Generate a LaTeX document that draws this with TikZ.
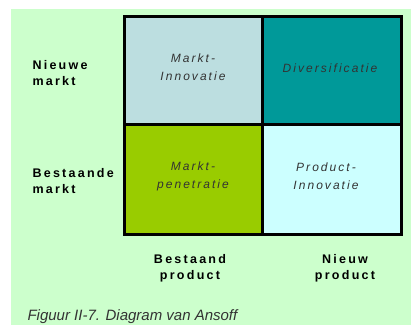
\documentclass[tikz,border=0pt]{standalone}
\usepackage{fontspec}
\setmainfont{Liberation Sans}
\definecolor{achtergrond}{HTML}{CCFFCC}
\definecolor{grijsblauw}{HTML}{BCDEE0}
\definecolor{teal}{HTML}{009999}
\definecolor{limoen}{HTML}{99CC00}
\definecolor{lichtcyaan}{HTML}{CCFFFF}
\definecolor{tekst}{HTML}{333333}
\tikzset{
  as/.style={font=\fontsize{12.5}{15.5}\selectfont\bfseries\addfontfeature{LetterSpace=18}},
  vak/.style={font=\fontsize{12}{18}\selectfont\itshape\addfontfeature{LetterSpace=17}, text=tekst, align=center},
}
\begin{document}
\begin{tikzpicture}[x=1pt,y=-1pt]
    \useasboundingbox (0,0) rectangle (411,325);
    % achtergrond
    \fill[achtergrond] (11,9) rectangle (411,325);

    % vier kwadranten
    \fill[grijsblauw] (124.5,16.5) rectangle (262.5,124);
    \fill[teal] (262.5,16.5) rectangle (401.5,124);
    \fill[limoen] (124.5,124) rectangle (262.5,234.5);
    \fill[lichtcyaan] (262.5,124) rectangle (401.5,234.5);
    \draw[line width=3] (124.5,16.5) rectangle (401.5,234.5);
    \draw[line width=3] (262.5,16.5) -- (262.5,234.5);
    \draw[line width=3] (124.5,124) -- (401.5,124);

    \node[vak] (marktinnovatie) at (193,67.5) {Markt-\\Innovatie};
    \node[vak] (diversificatie) at (330,68) {Diversificatie};
    \node[vak] (marktpenetratie) at (193,176) {Markt-\\penetratie};
    \node[vak] (productinnovatie) at (326,176) {Product-\\Innovatie};

    % assen
    \node[as, anchor=west, align=left] (nieuwemarkt) at (29,73) {Nieuwe\\markt};
    \node[as, anchor=west, align=left] (bestaandemarkt) at (29,181) {Bestaande\\markt};
    \node[as, align=center] (bestaandproduct) at (190,268.5) {Bestaand\\product};
    \node[as, align=center] (nieuwproduct) at (345,268.5) {Nieuw\\product};

    \node[anchor=west, text=tekst, font=\fontsize{15}{15}\selectfont\itshape] (bijschrift) at (24,317) {Figuur II-7. Diagram van Ansoff};
\end{tikzpicture}
\end{document}
